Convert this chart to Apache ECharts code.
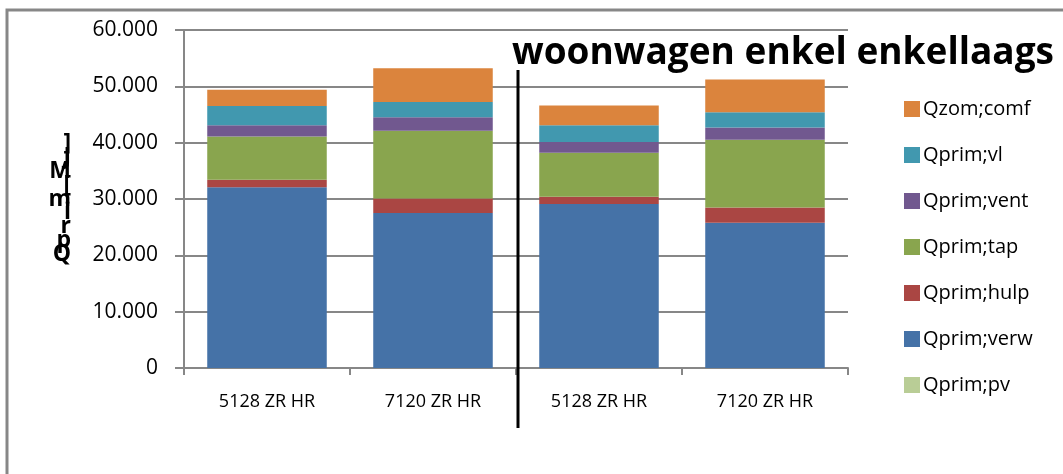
<!DOCTYPE html>
<html>
<head>
<meta charset="utf-8">
<script src="https://cdn.jsdelivr.net/npm/echarts@6/dist/echarts.min.js"></script>
<style>
html,body{margin:0;padding:0;background:#fff;}
#c{width:1063px;height:474px;}
</style>
</head>
<body>
<div id="c"></div>
<script>
const categories = ['5128 ZR HR', '7120 ZR HR', '5128 ZR HR', '7120 ZR HR'];
const seriesNames = ['Qprim;pv', 'Qprim;verw', 'Qprim;hulp', 'Qprim;tap', 'Qprim;vent', 'Qprim;vl', 'Qzom;comf'];
const qprimPv   = [0, 0, 0, 0];
const qprimVerw = [32100, 27500, 29100, 25800];
const qprimHulp = [1300, 2600, 1300, 2700];
const qprimTap  = [7700, 12000, 7800, 12000];
const qprimVent = [2000, 2400, 1900, 2200];
const qprimVl   = [3400, 2700, 3000, 2700];
const qzomComf  = [2900, 6000, 3500, 5800];
const yTicks = [0, 10000, 20000, 30000, 40000, 50000, 60000];
const titleText = 'woonwagen enkel enkellaags';
const yAxisName = 'Qprim [MJ]';

const colors = ['#B9CD96', '#4572A7', '#AA4643', '#89A54E', '#71588F', '#4198AF', '#DB843D'];
const values = [qprimPv, qprimVerw, qprimHulp, qprimTap, qprimVent, qprimVl, qzomComf];

// stacked vertical name: characters upright, bottom-to-top
const stackedName = yAxisName.replace(/ /g, '').split('').reverse().join('\n');

const fmt = v => v === 0 ? '0' : (v / 1000).toFixed(3);

const chart = echarts.init(document.getElementById('c'), null, {renderer: 'canvas'});
chart.setOption({
  animation: false,
  backgroundColor: '#ffffff',
  color: colors,
  textStyle: {fontFamily: 'Open Sans', color: '#000'},
  grid: {left: 184, right: 215, top: 30, bottom: 106, containLabel: false},
  legend: {
    orient: 'vertical',
    left: 899, top: 94,
    itemWidth: 16, itemHeight: 16, itemGap: 26,
    icon: 'rect',
    data: seriesNames.slice().reverse(),
    textStyle: {fontFamily: 'Open Sans', fontSize: 20, color: '#000', padding: [0, 0, 0, -2]}
  },
  xAxis: {
    type: 'category',
    data: categories,
    axisLine: {lineStyle: {color: '#878787', width: 2}},
    axisTick: {show: true, length: 7, lineStyle: {color: '#878787', width: 2}},
    axisLabel: {fontFamily: 'Open Sans', fontSize: 18, color: '#000', margin: 25}
  },
  yAxis: {
    type: 'value',
    min: 0, max: 60000, interval: 10000,
    name: stackedName,
    nameLocation: 'middle',
    nameRotate: 0,
    nameGap: 113,
    nameTextStyle: {fontFamily: 'Open Sans', fontWeight: 'bold', fontSize: 23, lineHeight: 13.8, color: '#000'},
    axisLine: {show: true, lineStyle: {color: '#878787', width: 2}},
    axisTick: {show: true, length: 9, lineStyle: {color: '#878787', width: 2}},
    splitLine: {lineStyle: {color: '#878787', width: 2}},
    axisLabel: {fontFamily: 'Open Sans', fontSize: 21, color: '#000', margin: 26, formatter: v => fmt(v),
      customValues: yTicks}
  },
  series: seriesNames.map((n, i) => ({
    name: n,
    type: 'bar',
    stack: 'total',
    barWidth: '72%',
    data: values[i],
    itemStyle: {color: colors[i]}
  })),
  graphic: [
    {type: 'rect', shape: {x: 7, y: 10, width: 1200, height: 600}, style: {fill: 'none', stroke: '#878787', lineWidth: 3}, silent: true, z: -1},
    {type: 'line', shape: {x1: 518, y1: 70, x2: 518, y2: 428}, style: {stroke: '#000', lineWidth: 3}, z: 100},
    {type: 'text', left: 512, top: 35, style: {text: titleText, fontFamily: 'Open Sans', fontWeight: 'bold', fontSize: 37, fill: '#000'}, z: 101}
  ]
});
</script>
</body>
</html>
